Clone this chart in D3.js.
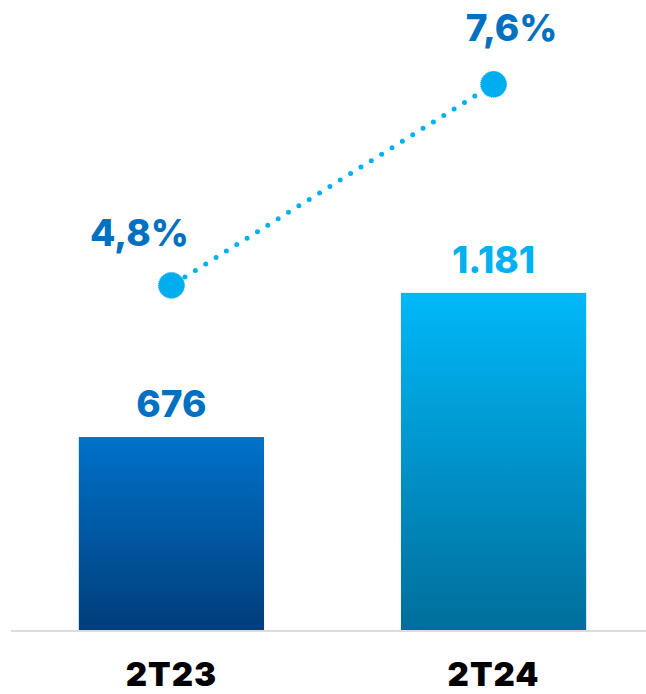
<!DOCTYPE html>
<html>
<head>
<meta charset="utf-8">
<script src="https://cdn.jsdelivr.net/npm/d3@7"></script>
<style>
  html, body { margin: 0; padding: 0; background: #fff; }
  svg { display: block; }
  text { font-family: Inter, "Liberation Sans", sans-serif; }
</style>
</head>
<body>
<div id="chart"></div>
<script>
// data
const periods = ["2T23", "2T24"];
const values = [676, 1181];
const valueLabels = ["676", "1.181"];
const rates = [4.8, 7.6];
const rateLabels = ["4,8%", "7,6%"];

const W = 646, H = 694;
const base = 630;

const svg = d3.select("#chart").append("svg")
	.attr("width", W)
	.attr("height", H);

const defs = svg.append("defs");
const grads = [
	{ id: "g0", top: "#0072ca", bottom: "#003d7a" },
	{ id: "g1", top: "#00b8f8", bottom: "#006e9b" }
];
grads.forEach(g => {
	const lg = defs.append("linearGradient")
		.attr("id", g.id)
		.attr("x1", 0).attr("y1", 0)
		.attr("x2", 0).attr("y2", 1);
	lg.append("stop").attr("offset", "0%").attr("stop-color", g.top);
	lg.append("stop").attr("offset", "100%").attr("stop-color", g.bottom);
});

const x = d3.scaleBand()
	.domain(periods)
	.range([16, 649])
	.paddingInner(0.425)
	.paddingOuter(0.195);

const y = d3.scaleLinear()
	.domain([0, 2207])
	.range([base, 0]);

// the margin line shares the baseline
const yr = d3.scaleLinear()
	.domain([0, 8.775])
	.range([base, 0]);

// baseline
svg.append("line")
	.attr("x1", 11).attr("x2", W)
	.attr("y1", base + 1).attr("y2", base + 1)
	.attr("stroke", "#dcdcdc")
	.attr("stroke-width", 2);

// bars
svg.selectAll("rect.bar")
	.data(values)
	.join("rect")
	.attr("class", "bar")
	.attr("x", (d, i) => x(periods[i]))
	.attr("y", d => y(d))
	.attr("width", x.bandwidth())
	.attr("height", d => base - y(d))
	.attr("fill", (d, i) => `url(#g${i})`);

// bar value labels
const valueColors = ["#0070c0", "#00b0f0"];
svg.selectAll("text.val")
	.data(values)
	.join("text")
	.attr("class", "val")
	.attr("x", (d, i) => x(periods[i]) + x.bandwidth() / 2)
	.attr("y", d => y(d) - 20)
	.attr("text-anchor", "middle")
	.attr("font-size", 37)
	.attr("font-weight", 800)
	.attr("fill", (d, i) => valueColors[i])
	.text((d, i) => valueLabels[i]);

// category labels
svg.selectAll("text.cat")
	.data(periods)
	.join("text")
	.attr("class", "cat")
	.attr("x", d => x(d) + x.bandwidth() / 2)
	.attr("y", 686)
	.attr("text-anchor", "middle")
	.attr("font-size", 33)
	.attr("font-weight", 900)
	.attr("letter-spacing", 1)
	.attr("fill", "#000")
	.text(d => d);

// dotted margin line
const pts = rates.map((r, i) => [x(periods[i]) + x.bandwidth() / 2, yr(r)]);
svg.append("path")
	.attr("d", d3.line()(pts))
	.attr("fill", "none")
	.attr("stroke", "#00b0f0")
	.attr("stroke-width", 5)
	.attr("stroke-linecap", "round")
	.attr("stroke-dasharray", "0 12.2")
	.attr("stroke-dashoffset", -16);

svg.selectAll("circle.pt")
	.data(pts)
	.join("circle")
	.attr("class", "pt")
	.attr("cx", d => d[0])
	.attr("cy", d => d[1])
	.attr("r", 13)
	.attr("fill", "#00aeef")
	.attr("stroke", "#00aeef")
	.attr("stroke-width", 1)
	.attr("stroke-dasharray", "1 1");

// rate labels
const rateDx = [-32, 18];
svg.selectAll("text.rate")
	.data(pts)
	.join("text")
	.attr("class", "rate")
	.attr("x", (d, i) => d[0] + rateDx[i])
	.attr("y", (d, i) => d[1] - (i ? 43 : 39))
	.attr("text-anchor", "middle")
	.attr("font-size", 37)
	.attr("font-weight", 800)
	.attr("fill", "#0070c0")
	.text((d, i) => rateLabels[i]);
</script>
</body>
</html>
